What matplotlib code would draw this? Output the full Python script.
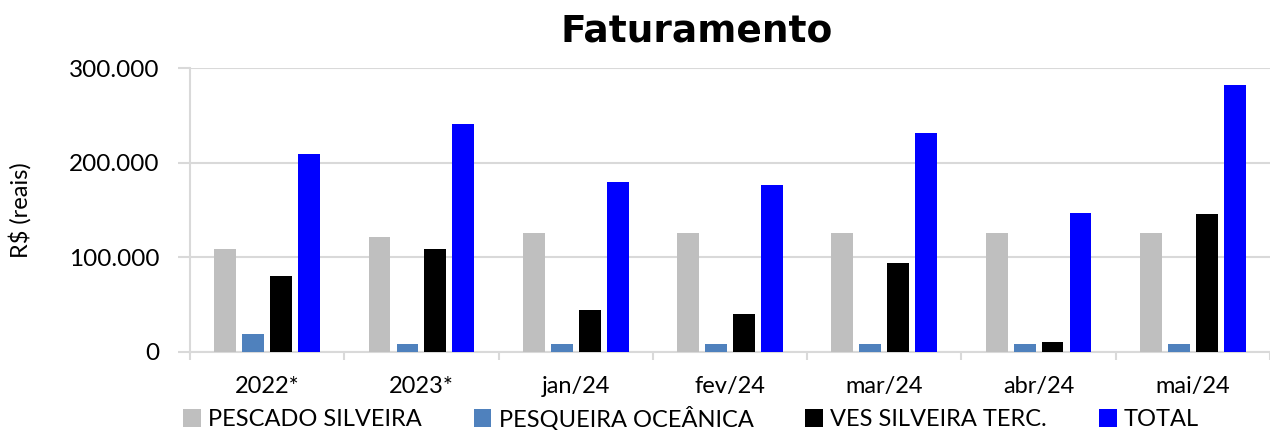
import numpy as np
import matplotlib
matplotlib.use("Agg")
import matplotlib.pyplot as plt
from matplotlib.patches import Patch
from matplotlib.ticker import FuncFormatter, FixedLocator

# ── Data ──
categories = ["2022*", "2023*", "jan/24", "fev/24", "mar/24", "abr/24", "mai/24"]
pescado_silveira = [108500, 122000, 126000, 126000, 126000, 126000, 126000]
pesqueira_oceanica = [19500, 8000, 8000, 8000, 8000, 8000, 8000]
ves_silveira_terc = [80000, 109000, 44000, 40000, 94000, 11000, 146000]
total = [209000, 241000, 180000, 176000, 231000, 147000, 282000]

series_names = ["PESCADO SILVEIRA", "PESQUEIRA OCEÂNICA", "VES SILVEIRA TERC.", "TOTAL"]
series_values = [pescado_silveira, pesqueira_oceanica, ves_silveira_terc, total]
colors = ["#BFBFBF", "#4F81BD", "#000000", "#0000FF"]

plt.rcParams["font.family"] = ["Lato", "DejaVu Sans"]
GRID = "#D9D9D9"

fig = plt.figure(figsize=(12.7, 4.3), dpi=100)
ax = fig.add_axes([190 / 1270, 1 - 352 / 430, 1080 / 1270, (352 - 67.5) / 430])

x = np.arange(len(categories))
step = 0.181
width = 0.142
for i, (vals, col) in enumerate(zip(series_values, colors)):
    ax.bar(x + (i - 1.5) * step, vals, width=width, color=col, zorder=3)

ax.set_xlim(-0.5, len(categories) - 0.5)
ax.set_ylim(0, 300600)
ax.set_yticks([0, 100000, 200000, 300000])
ax.yaxis.set_major_formatter(FuncFormatter(lambda v, p: f"{int(v):,}".replace(",", ".")))
ax.grid(axis="y", color=GRID, linewidth=1.5, zorder=0)

ax.set_xticks(x)
ax.set_xticklabels(categories)
ax.xaxis.set_minor_locator(FixedLocator(np.arange(-0.5, len(categories), 1.0)))
ax.tick_params(axis="x", which="major", length=0, pad=17, labelsize=17)
ax.tick_params(axis="x", which="minor", length=6, width=1.5, color=GRID)
ax.tick_params(axis="y", length=9, width=1.5, color=GRID, pad=13, labelsize=17.5)

for s in ["top", "right"]:
    ax.spines[s].set_visible(False)
for s in ["left", "bottom"]:
    ax.spines[s].set_color(GRID)
    ax.spines[s].set_linewidth(1.5)

ax.set_ylabel("R$ (reais)", fontsize=17)
ax.yaxis.set_label_coords(-0.147, 0.5)

fig.text(697 / 1270, 1 - 32 / 430, "Faturamento", ha="center", va="center",
         fontsize=27, fontweight="bold", family="DejaVu Sans")

handles = [Patch(facecolor=c, edgecolor="none") for c in colors]
fig.legend(handles, series_names, loc="center", bbox_to_anchor=(691 / 1270, 1 - 418 / 430),
           ncol=4, frameon=False, fontsize=17, handlelength=0.75, handleheight=0.75,
           handletextpad=0.3, columnspacing=2.2, borderpad=0)

fig.savefig("out.png", dpi=100, facecolor="white")
